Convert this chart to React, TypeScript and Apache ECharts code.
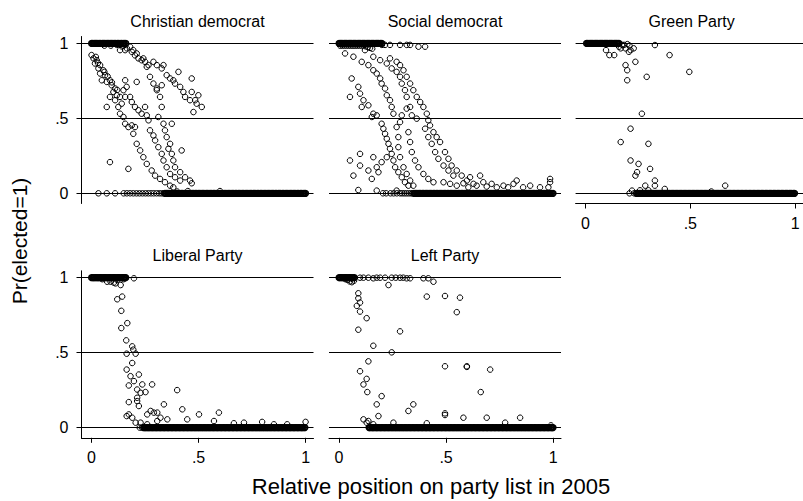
import React, { useEffect, useRef } from "react";
import * as echarts from "echarts";

const panelTitles = ["Christian democrat", "Social democrat", "Green Party", "Liberal Party", "Left Party"];
const xTitle = "Relative position on party list in 2005";
const yTitle = "Pr(elected=1)";
const xTicks = [0, 0.5, 1];
const yTicks = [0, 0.5, 1];
const xTickLabels = ["0", ".5", "1"];
const yTickLabels = ["0", ".5", "1"];

// ---------- Christian democrat ----------
const cdPoints: [number, number][] = [
  [0.118, 0.99], [0.141, 0.98], [0.157, 0.955], [0.18, 0.978], [0.188, 0.944], [0.203, 0.92], [0.219, 0.9], [0.234, 0.888],
  [0.25, 0.877], [0.266, 0.855], [0.133, 0.955], [0.165, 0.967], [0.195, 0.955], [0.211, 0.933], [0.242, 0.9], [0.06, 0.985],
  [0.09, 0.985], [0.15, 0.985], [0.289, 0.877], [0.305, 0.855], [0.336, 0.855], [0.328, 0.833], [0.258, 0.844], [0.351, 0.788],
  [0.406, 0.81], [0.382, 0.754], [0.414, 0.71], [0.429, 0.676], [0.468, 0.766], [0.468, 0.676], [0.499, 0.654], [0.484, 0.621],
  [0.46, 0.621], [0.491, 0.598], [0.476, 0.542], [0.515, 0.576], [0.39, 0.732], [0.367, 0.766], [0.437, 0.643],
  [0.0, 0.922], [0.009, 0.9], [0.024, 0.888], [0.016, 0.866], [0.04, 0.855], [0.032, 0.833], [0.055, 0.821], [0.04, 0.799],
  [0.063, 0.788], [0.048, 0.754], [0.071, 0.743], [0.086, 0.754], [0.094, 0.721], [0.11, 0.699], [0.102, 0.676], [0.118, 0.654],
  [0.086, 0.643], [0.11, 0.621], [0.133, 0.643], [0.141, 0.598], [0.157, 0.643], [0.157, 0.754], [0.164, 0.71], [0.149, 0.688],
  [0.125, 0.576], [0.133, 0.531], [0.149, 0.509], [0.157, 0.464], [0.172, 0.442], [0.188, 0.453], [0.203, 0.442], [0.195, 0.397],
  [0.211, 0.33], [0.227, 0.286], [0.242, 0.241], [0.258, 0.196], [0.281, 0.152], [0.297, 0.118], [0.32, 0.096], [0.343, 0.074],
  [0.367, 0.051], [0.382, 0.04], [0.02, 0.91], [0.03, 0.87], [0.06, 0.81], [0.075, 0.78], [0.095, 0.74], [0.12, 0.69],
  [0.18, 0.643], [0.188, 0.609], [0.203, 0.576], [0.219, 0.554], [0.234, 0.531], [0.25, 0.576], [0.258, 0.52], [0.266, 0.487],
  [0.273, 0.42], [0.289, 0.386], [0.297, 0.353], [0.312, 0.308], [0.328, 0.263], [0.336, 0.219], [0.351, 0.174], [0.367, 0.129],
  [0.39, 0.107], [0.414, 0.085], [0.273, 0.777], [0.289, 0.732], [0.305, 0.688], [0.32, 0.643], [0.328, 0.576], [0.312, 0.509],
  [0.336, 0.464], [0.343, 0.42], [0.351, 0.375], [0.367, 0.33], [0.359, 0.297], [0.375, 0.263], [0.382, 0.219], [0.39, 0.174],
  [0.414, 0.141], [0.437, 0.107], [0.46, 0.085], [0.468, 0.067], [0.375, 0.464], [0.421, 0.286], [0.071, 0.576], [0.086, 0.208],
  [0.172, 0.163], [0.211, 0.743], [0.305, 0.699], [0.328, 0.721], [0.6, 0.015], [0.4, 0.012], [0.45, 0.015],
  [0.032, 0], [0.071, 0], [0.11, 0], [0.15, 0], [0.165, 0], [0.18, 0], [0.195, 0], [0.21, 0], [0.224, 0], [0.238, 0],
  [0.252, 0], [0.265, 0], [0.278, 0], [0.291, 0], [0.304, 0], [0.316, 0], [0.327, 0], [0.336, 0],
];
const cdTopX = [0, 0.006, 0.012, 0.018, 0.024, 0.03, 0.036, 0.043, 0.05, 0.056, 0.062, 0.068, 0.075, 0.081, 0.087, 0.094,
  0.1, 0.106, 0.113, 0.12, 0.126, 0.133, 0.14, 0.147, 0.153, 0.16];
const cdZeroX = [0.343, 0.349, 0.356, 0.362, 0.368, 0.375, 0.381, 0.388, 0.394, 0.401, 0.407, 0.413, 0.42, 0.426,
  0.433, 0.44, 0.446, 0.452, 0.459, 0.465, 0.472, 0.478, 0.485, 0.491, 0.498, 0.504, 0.511, 0.517, 0.523, 0.53, 0.537, 0.543,
  0.549, 0.556, 0.562, 0.569, 0.575, 0.582, 0.588, 0.594, 0.601, 0.607, 0.614, 0.62, 0.627, 0.633, 0.64, 0.646, 0.652, 0.659,
  0.665, 0.672, 0.678, 0.685, 0.691, 0.698, 0.704, 0.71, 0.717, 0.723, 0.73, 0.736, 0.743, 0.749, 0.756, 0.762, 0.768, 0.775,
  0.781, 0.788, 0.794, 0.801, 0.807, 0.814, 0.82, 0.826, 0.833, 0.839, 0.846, 0.852, 0.859, 0.865, 0.872, 0.878, 0.884, 0.891,
  0.897, 0.904, 0.91, 0.917, 0.923, 0.93, 0.936, 0.942, 0.949, 0.955, 0.962, 0.968, 0.975, 0.981, 0.988, 0.994, 1.0];

// ---------- Social democrat ----------
const sdPoints: [number, number][] = [
  [0.238, 0.99], [0.285, 0.99], [0.316, 0.99], [0.332, 0.99], [0.371, 0.978], [0.402, 0.978], [0.2, 0.99], [0.215, 0.99],
  [0.005, 0.985], [0.015, 0.985], [0.025, 0.985], [0.035, 0.985], [0.045, 0.985], [0.055, 0.985], [0.065, 0.985], [0.075, 0.985],
  [0.085, 0.985], [0.095, 0.985], [0.105, 0.985], [0.115, 0.985], [0.125, 0.98], [0.135, 0.975], [0.145, 0.97], [0.155, 0.965],
  [0.028, 0.933], [0.067, 0.911], [0.106, 0.877], [0.137, 0.855], [0.16, 0.821], [0.176, 0.799], [0.192, 0.766], [0.199, 0.732],
  [0.215, 0.699], [0.223, 0.654], [0.238, 0.621], [0.246, 0.576], [0.254, 0.531], [0.121, 0.955], [0.16, 0.911], [0.192, 0.888],
  [0.223, 0.866], [0.246, 0.833], [0.269, 0.81], [0.285, 0.777], [0.293, 0.732], [0.308, 0.688], [0.316, 0.643], [0.332, 0.576],
  [0.34, 0.52], [0.363, 0.498], [0.238, 0.9], [0.269, 0.877], [0.285, 0.855], [0.301, 0.821], [0.316, 0.777], [0.332, 0.732],
  [0.347, 0.688], [0.363, 0.643], [0.379, 0.609], [0.394, 0.576], [0.41, 0.531], [0.417, 0.487], [0.425, 0.453], [0.441, 0.408],
  [0.456, 0.375], [0.472, 0.342], [0.495, 0.275], [0.511, 0.23], [0.526, 0.185], [0.55, 0.152], [0.573, 0.118], [0.597, 0.085],
  [0.628, 0.063], [0.199, 0.464], [0.207, 0.431], [0.215, 0.397], [0.223, 0.364], [0.231, 0.33], [0.238, 0.297], [0.246, 0.263],
  [0.254, 0.219], [0.262, 0.174], [0.277, 0.141], [0.293, 0.107], [0.308, 0.074], [0.324, 0.051], [0.277, 0.375], [0.277, 0.308],
  [0.285, 0.241], [0.301, 0.174], [0.316, 0.129], [0.332, 0.085], [0.347, 0.051], [0.269, 0.442], [0.285, 0.475], [0.293, 0.52],
  [0.316, 0.565], [0.324, 0.408], [0.332, 0.342], [0.34, 0.275], [0.355, 0.219], [0.371, 0.174], [0.394, 0.129], [0.417, 0.096],
  [0.441, 0.074], [0.402, 0.431], [0.417, 0.375], [0.433, 0.33], [0.449, 0.275], [0.464, 0.23], [0.488, 0.185], [0.511, 0.152],
  [0.534, 0.118], [0.059, 0.766], [0.09, 0.71], [0.098, 0.665], [0.051, 0.643], [0.114, 0.621], [0.106, 0.576], [0.137, 0.587],
  [0.16, 0.531], [0.153, 0.509], [0.176, 0.52], [0.051, 0.219], [0.098, 0.263], [0.098, 0.185], [0.067, 0.118], [0.09, 0.022],
  [0.137, 0.152], [0.153, 0.096], [0.16, 0.241], [0.184, 0.141], [0.199, 0.208], [0.176, 0.018], [0.269, 0.018], [0.223, 0.241],
  [0.176, 0.174], [0.612, 0.107], [0.659, 0.118], [0.674, 0.074], [0.713, 0.063], [0.768, 0.051], [0.815, 0.063], [0.83, 0.085],
  [0.893, 0.051], [0.939, 0.04], [0.986, 0.096], [0.986, 0.074], [0.978, 0.04], [0.488, 0.074], [0.519, 0.063], [0.55, 0.051],
  [0.581, 0.067], [0.604, 0.04], [0.643, 0.051], [0.69, 0.045], [0.737, 0.04], [0.79, 0.04], [0.86, 0.04],
  [0.205, 0], [0.22, 0], [0.24, 0], [0.255, 0], [0.27, 0], [0.285, 0], [0.295, 0], [0.305, 0], [0.315, 0], [0.325, 0],
  [0.335, 0], [0.342, 0],
];
const sdTopX = [0, 0.006, 0.012, 0.018, 0.024, 0.03, 0.036, 0.042, 0.048, 0.054, 0.06, 0.066, 0.072, 0.078, 0.084, 0.09,
  0.096, 0.102, 0.108, 0.114, 0.12, 0.126, 0.132, 0.138, 0.144, 0.15, 0.156, 0.162, 0.168, 0.174, 0.18, 0.186, 0.193, 0.2];
const sdZeroX = [0.35, 0.356, 0.363, 0.369,
  0.376, 0.382, 0.389, 0.395, 0.402, 0.408, 0.415, 0.421, 0.428, 0.434, 0.441, 0.447, 0.454, 0.46, 0.467, 0.473, 0.48, 0.486,
  0.493, 0.499, 0.506, 0.512, 0.519, 0.525, 0.532, 0.538, 0.545, 0.551, 0.558, 0.564, 0.571, 0.577, 0.584, 0.59, 0.597, 0.603,
  0.61, 0.616, 0.623, 0.629, 0.636, 0.642, 0.649, 0.655, 0.662, 0.668, 0.675, 0.681, 0.688, 0.694, 0.701, 0.707, 0.714, 0.72,
  0.727, 0.733, 0.74, 0.746, 0.753, 0.759, 0.766, 0.772, 0.779, 0.785, 0.792, 0.798, 0.805, 0.811, 0.818, 0.824, 0.831, 0.837,
  0.844, 0.85, 0.857, 0.863, 0.87, 0.876, 0.883, 0.889, 0.896, 0.902, 0.909, 0.915, 0.922, 0.928, 0.935, 0.941, 0.948, 0.954,
  0.961, 0.967, 0.974, 0.98, 0.987, 0.993, 1.0];

// ---------- Green Party ----------
const gpPoints: [number, number][] = [
  [0.098, 0.955], [0.114, 0.922], [0.137, 0.922], [0.16, 0.978], [0.168, 0.967], [0.176, 0.989], [0.191, 0.967], [0.207, 0.944],
  [0.215, 0.955], [0.23, 0.967], [0.238, 0.877], [0.191, 0.855], [0.199, 0.821], [0.199, 0.754], [0.292, 0.777], [0.331, 0.989],
  [0.401, 0.922], [0.495, 0.81], [0.269, 0.531], [0.215, 0.431], [0.168, 0.342], [0.3, 0.33], [0.215, 0.219], [0.253, 0.196],
  [0.246, 0.141], [0.238, 0.118], [0.308, 0.163], [0.331, 0.085], [0.285, 0.051], [0.331, 0.051], [0.378, 0.029], [0.666, 0.051],
  [0.222, 0.018], [0.184, 0.99], [0.2, 0.995], [0.21, 0.985], [0.26, 0.02], [0.3, 0.02], [0.6, 0.012],
  [0.21, 0], [0.232, 0],
];
const gpTopX = [0.005, 0.011, 0.017, 0.023, 0.029, 0.035, 0.041, 0.047, 0.053, 0.059, 0.065, 0.071, 0.077, 0.083, 0.089,
  0.095, 0.101, 0.107, 0.113, 0.119, 0.125, 0.131, 0.137, 0.143, 0.149, 0.155, 0.16];
const gpZeroX = [0.243, 0.25, 0.256, 0.262, 0.269, 0.275, 0.281, 0.288, 0.294, 0.3, 0.307, 0.313, 0.319, 0.326,
  0.332, 0.338, 0.345, 0.351, 0.357, 0.364, 0.37, 0.376, 0.383, 0.389, 0.395, 0.402, 0.408, 0.414, 0.421, 0.427, 0.433, 0.44,
  0.446, 0.452, 0.459, 0.465, 0.471, 0.478, 0.484, 0.49, 0.497, 0.503, 0.509, 0.516, 0.522, 0.528, 0.535, 0.541, 0.547, 0.554,
  0.56, 0.566, 0.573, 0.579, 0.585, 0.592, 0.598, 0.604, 0.611, 0.617, 0.623, 0.63, 0.636, 0.642, 0.649, 0.655, 0.661, 0.668,
  0.674, 0.68, 0.687, 0.693, 0.699, 0.706, 0.712, 0.718, 0.725, 0.731, 0.737, 0.744, 0.75, 0.756, 0.763, 0.769, 0.775, 0.782,
  0.788, 0.794, 0.801, 0.807, 0.813, 0.82, 0.826, 0.832, 0.839, 0.845, 0.851, 0.858, 0.864, 0.87, 0.877, 0.883, 0.889, 0.896,
  0.902, 0.908, 0.915, 0.921, 0.927, 0.934, 0.94, 0.946, 0.953, 0.959, 0.965, 0.972, 0.978, 0.984, 0.991, 0.997];

// ---------- Liberal Party ----------
const lpPoints: [number, number][] = [
  [0.198, 0.996], [0.089, 0.973], [0.112, 0.962], [0.136, 0.951], [0.073, 0.973], [0.104, 0.967], [0.12, 0.856], [0.143, 0.874],
  [0.139, 0.779], [0.139, 0.664], [0.167, 0.697], [0.162, 0.582], [0.19, 0.542], [0.164, 0.493], [0.195, 0.52], [0.206, 0.493],
  [0.19, 0.431], [0.164, 0.387], [0.182, 0.343], [0.221, 0.354], [0.174, 0.281], [0.198, 0.31], [0.237, 0.288], [0.283, 0.288],
  [0.213, 0.254], [0.229, 0.232], [0.252, 0.237], [0.213, 0.199], [0.213, 0.177], [0.174, 0.17], [0.221, 0.144], [0.174, 0.088],
  [0.164, 0.077], [0.19, 0.066], [0.206, 0.033], [0.26, 0.088], [0.276, 0.111], [0.291, 0.1], [0.307, 0.1], [0.338, 0.155],
  [0.4, 0.25], [0.424, 0.122], [0.447, 0.055], [0.502, 0.088], [0.595, 0.1], [0.572, 0.044], [0.229, 0.033], [0.26, 0.022],
  [0.322, 0.066], [0.354, 0.055], [0.307, 0.044], [0.665, 0.029], [0.712, 0.033], [0.797, 0.038], [1.0, 0.038], [0.852, 0.022],
  [0.914, 0.022], [0.05, 0.99], [0.12, 0.985], [0.15, 0.99], [0.225, 0], [0.235, 0],
];
const lpTopX = [0, 0.006, 0.012, 0.018, 0.024, 0.03, 0.036, 0.042, 0.048, 0.054, 0.06, 0.066, 0.072, 0.078, 0.084, 0.09,
  0.096, 0.102, 0.108, 0.114, 0.12, 0.126, 0.132, 0.138, 0.144, 0.15, 0.156, 0.16];
const lpZeroX = [0.243, 0.249, 0.256, 0.262, 0.268, 0.275, 0.281, 0.287, 0.294, 0.3, 0.306, 0.313, 0.319,
  0.325, 0.332, 0.338, 0.344, 0.351, 0.357, 0.363, 0.37, 0.376, 0.382, 0.389, 0.395, 0.401, 0.408, 0.414, 0.42, 0.427, 0.433,
  0.439, 0.446, 0.452, 0.458, 0.465, 0.471, 0.477, 0.484, 0.49, 0.496, 0.503, 0.509, 0.515, 0.522, 0.528, 0.534, 0.541, 0.547,
  0.553, 0.56, 0.566, 0.572, 0.579, 0.585, 0.591, 0.598, 0.604, 0.61, 0.617, 0.623, 0.629, 0.636, 0.642, 0.648, 0.655, 0.661,
  0.667, 0.674, 0.68, 0.686, 0.693, 0.699, 0.705, 0.712, 0.718, 0.724, 0.731, 0.737, 0.743, 0.75, 0.756, 0.762, 0.769, 0.775,
  0.781, 0.788, 0.794, 0.8, 0.807, 0.813, 0.819, 0.826, 0.832, 0.838, 0.845, 0.851, 0.857, 0.864, 0.87, 0.876, 0.883, 0.889,
  0.895, 0.902, 0.908, 0.914, 0.921, 0.927, 0.933, 0.94, 0.946, 0.952, 0.959, 0.965, 0.971, 0.978, 0.984, 0.99, 0.997];

// ---------- Left Party ----------
const vpPoints: [number, number][] = [
  [0.098, 1.0], [0.137, 1.0], [0.16, 0.996], [0.192, 1.0], [0.215, 1.0], [0.246, 1.0], [0.285, 1.0], [0.316, 0.996],
  [0.332, 0.996], [0.3, 1.0], [0.394, 0.996], [0.417, 0.996], [0.441, 0.973], [0.231, 0.951], [0.114, 1.0], [0.176, 1.0],
  [0.265, 1.0], [0.04, 0.985], [0.05, 0.975], [0.06, 0.97], [0.07, 0.98], [0.03, 0.99],
  [0.09, 0.896], [0.09, 0.863], [0.098, 0.834], [0.083, 0.812], [0.098, 0.774], [0.129, 0.73], [0.09, 0.653], [0.285, 0.642],
  [0.16, 0.546], [0.246, 0.502], [0.137, 0.442], [0.098, 0.376], [0.129, 0.325], [0.114, 0.288], [0.132, 0.237], [0.199, 0.21],
  [0.176, 0.155], [0.114, 0.055], [0.137, 0.044], [0.184, 0.077], [0.16, 0.022], [0.324, 0.111], [0.347, 0.155], [0.41, 0.874],
  [0.495, 0.878], [0.565, 0.867], [0.55, 0.77], [0.495, 0.409], [0.597, 0.405], [0.597, 0.409], [0.706, 0.387], [0.662, 0.237],
  [0.495, 0.084], [0.495, 0.095], [0.581, 0.066], [0.69, 0.066], [0.776, 0.033], [0.846, 0.066], [0.129, 0.033], [0.254, 0.033],
  [0.41, 0.029], [0.99, 0.015],
];
const vpTopX = [0, 0.006, 0.012, 0.018, 0.024, 0.03, 0.036, 0.042, 0.048, 0.054, 0.06, 0.066, 0.072];
const vpZeroX = [0.14, 0.146, 0.153, 0.159, 0.165, 0.172, 0.178, 0.184, 0.191, 0.197, 0.203, 0.21, 0.216, 0.222, 0.229,
  0.235, 0.241, 0.248, 0.254, 0.26, 0.267, 0.273, 0.279, 0.286, 0.292, 0.298, 0.305, 0.311, 0.317, 0.324, 0.33, 0.336, 0.343,
  0.349, 0.355, 0.362, 0.368, 0.374, 0.381, 0.387, 0.393, 0.4, 0.406, 0.412, 0.419, 0.425, 0.431, 0.438, 0.444, 0.45, 0.457,
  0.463, 0.469, 0.476, 0.482, 0.488, 0.495, 0.501, 0.507, 0.514, 0.52, 0.526, 0.533, 0.539, 0.545, 0.552, 0.558, 0.564, 0.571,
  0.577, 0.583, 0.59, 0.596, 0.602, 0.609, 0.615, 0.621, 0.628, 0.634, 0.64, 0.647, 0.653, 0.659, 0.666, 0.672, 0.678, 0.685,
  0.691, 0.697, 0.704, 0.71, 0.716, 0.723, 0.729, 0.735, 0.742, 0.748, 0.754, 0.761, 0.767, 0.773, 0.78, 0.786, 0.792, 0.799,
  0.805, 0.811, 0.818, 0.824, 0.83, 0.837, 0.843, 0.849, 0.856, 0.862, 0.868, 0.875, 0.881, 0.887, 0.894, 0.9, 0.906, 0.913,
  0.919, 0.925, 0.932, 0.938, 0.944, 0.951, 0.957, 0.963, 0.97, 0.976, 0.982, 0.989, 0.995, 1.0];

const FONT = "'Liberation Sans', Arial, sans-serif";
const GRID_LEFT = [81.5, 329, 575.6];
const GRID_TOP = [36.5, 270.8];
const GRID_W = 232;
const GRID_H = 167;
const X_MIN = -0.047;
const X_MAX = 1.037;
const Y_MIN = -0.068;
const Y_MAX = 1.046;

const panels = [
  { title: panelTitles[0], pts: cdPoints, top: cdTopX, zero: cdZeroX, col: 0, row: 0, showX: false, showY: true },
  { title: panelTitles[1], pts: sdPoints, top: sdTopX, zero: sdZeroX, col: 1, row: 0, showX: false, showY: false },
  { title: panelTitles[2], pts: gpPoints, top: gpTopX, zero: gpZeroX, col: 2, row: 0, showX: true, showY: false },
  { title: panelTitles[3], pts: lpPoints, top: lpTopX, zero: lpZeroX, col: 0, row: 1, showX: true, showY: true },
  { title: panelTitles[4], pts: vpPoints, top: vpTopX, zero: vpZeroX, col: 1, row: 1, showX: true, showY: false },
];

function fmt(v: number, ticks: number[], labels: string[]) {
  const i = ticks.findIndex((t) => Math.abs(t - v) < 1e-9);
  return i >= 0 ? labels[i] : "";
}

export default function App() {
  const ref = useRef<HTMLDivElement>(null);
  useEffect(() => {
    if (!ref.current) return;
    const chart = echarts.init(ref.current, undefined, { renderer: "svg" });
    const graphics: any[] = [];
    panels.forEach((p) => {
      graphics.push({
        type: "text",
        x: GRID_LEFT[p.col] + GRID_W / 2,
        y: GRID_TOP[p.row] - 15.5,
        style: { text: p.title, fontSize: 16, fontFamily: FONT, fill: "#000", textAlign: "center", textVerticalAlign: "middle" },
      });
    });
    graphics.push({
      type: "text",
      x: 431,
      y: 486,
      style: { text: xTitle, fontSize: 22, fontFamily: FONT, fill: "#000", textAlign: "center", textVerticalAlign: "middle" },
    });
    graphics.push({
      type: "text",
      x: 19.5,
      y: 241,
      rotation: Math.PI / 2,
      style: { text: yTitle, fontSize: 21, fontFamily: FONT, fill: "#000", textAlign: "center", textVerticalAlign: "middle" },
    });

    const series: any[] = [];
    panels.forEach((p, i) => {
      series.push({
        type: "scatter",
        xAxisIndex: i,
        yAxisIndex: i,
        symbol: "circle",
        symbolSize: 5.5,
        silent: true,
        itemStyle: { color: "rgba(0,0,0,0)", borderColor: "#000", borderWidth: 1, opacity: 1 },
        data: p.pts,
        markLine: {
          silent: true,
          symbol: ["none", "none"],
          label: { show: false },
          lineStyle: { color: "#000", width: 1, type: "solid" },
          emphasis: { disabled: true },
          data: yTicks.map((v) => ({ yAxis: v })),
        },
      });
      series.push({
        type: "scatter",
        xAxisIndex: i,
        yAxisIndex: i,
        symbol: "circle",
        symbolSize: 5.5,
        silent: true,
        itemStyle: { color: "rgba(0,0,0,0)", borderColor: "#000", borderWidth: 1.7, opacity: 1 },
        data: [...p.top.map((x) => [x, 1]), ...p.zero.map((x) => [x, 0])],
      });
    });

    const option: any = {
      animation: false,
      backgroundColor: "#fff",
      grid: panels.map((p) => ({ left: GRID_LEFT[p.col], top: GRID_TOP[p.row], width: GRID_W, height: GRID_H })),
      xAxis: panels.map((p, i) => ({
        gridIndex: i,
        type: "value",
        min: X_MIN,
        max: X_MAX,
        show: p.showX,
        axisLine: { show: true, onZero: false, lineStyle: { color: "#000", width: 1 } },
        axisTick: { show: true, customValues: xTicks, length: 5, lineStyle: { color: "#000", width: 1 } },
        axisLabel: {
          show: true,
          customValues: xTicks,
          formatter: (v: number) => fmt(v, xTicks, xTickLabels),
          fontSize: 16,
          fontFamily: FONT,
          color: "#000",
          margin: 12,
        },
        splitLine: { show: false },
      })),
      yAxis: panels.map((p, i) => ({
        gridIndex: i,
        type: "value",
        min: Y_MIN,
        max: Y_MAX,
        show: p.showY,
        axisLine: { show: true, onZero: false, lineStyle: { color: "#000", width: 1 } },
        axisTick: { show: true, customValues: yTicks, length: 5, lineStyle: { color: "#000", width: 1 } },
        axisLabel: {
          show: true,
          customValues: yTicks,
          formatter: (v: number) => fmt(v, yTicks, yTickLabels),
          fontSize: 16,
          fontFamily: FONT,
          color: "#000",
          margin: 13,
        },
        splitLine: { show: false },
      })),
      series,
      graphic: graphics,
    };
    chart.setOption(option);
    return () => chart.dispose();
  }, []);
  return (
    <div
      ref={ref}
      style={{ position: "fixed", left: 0, top: 0, width: 803, height: 501, background: "#fff" }}
    />
  );
}
